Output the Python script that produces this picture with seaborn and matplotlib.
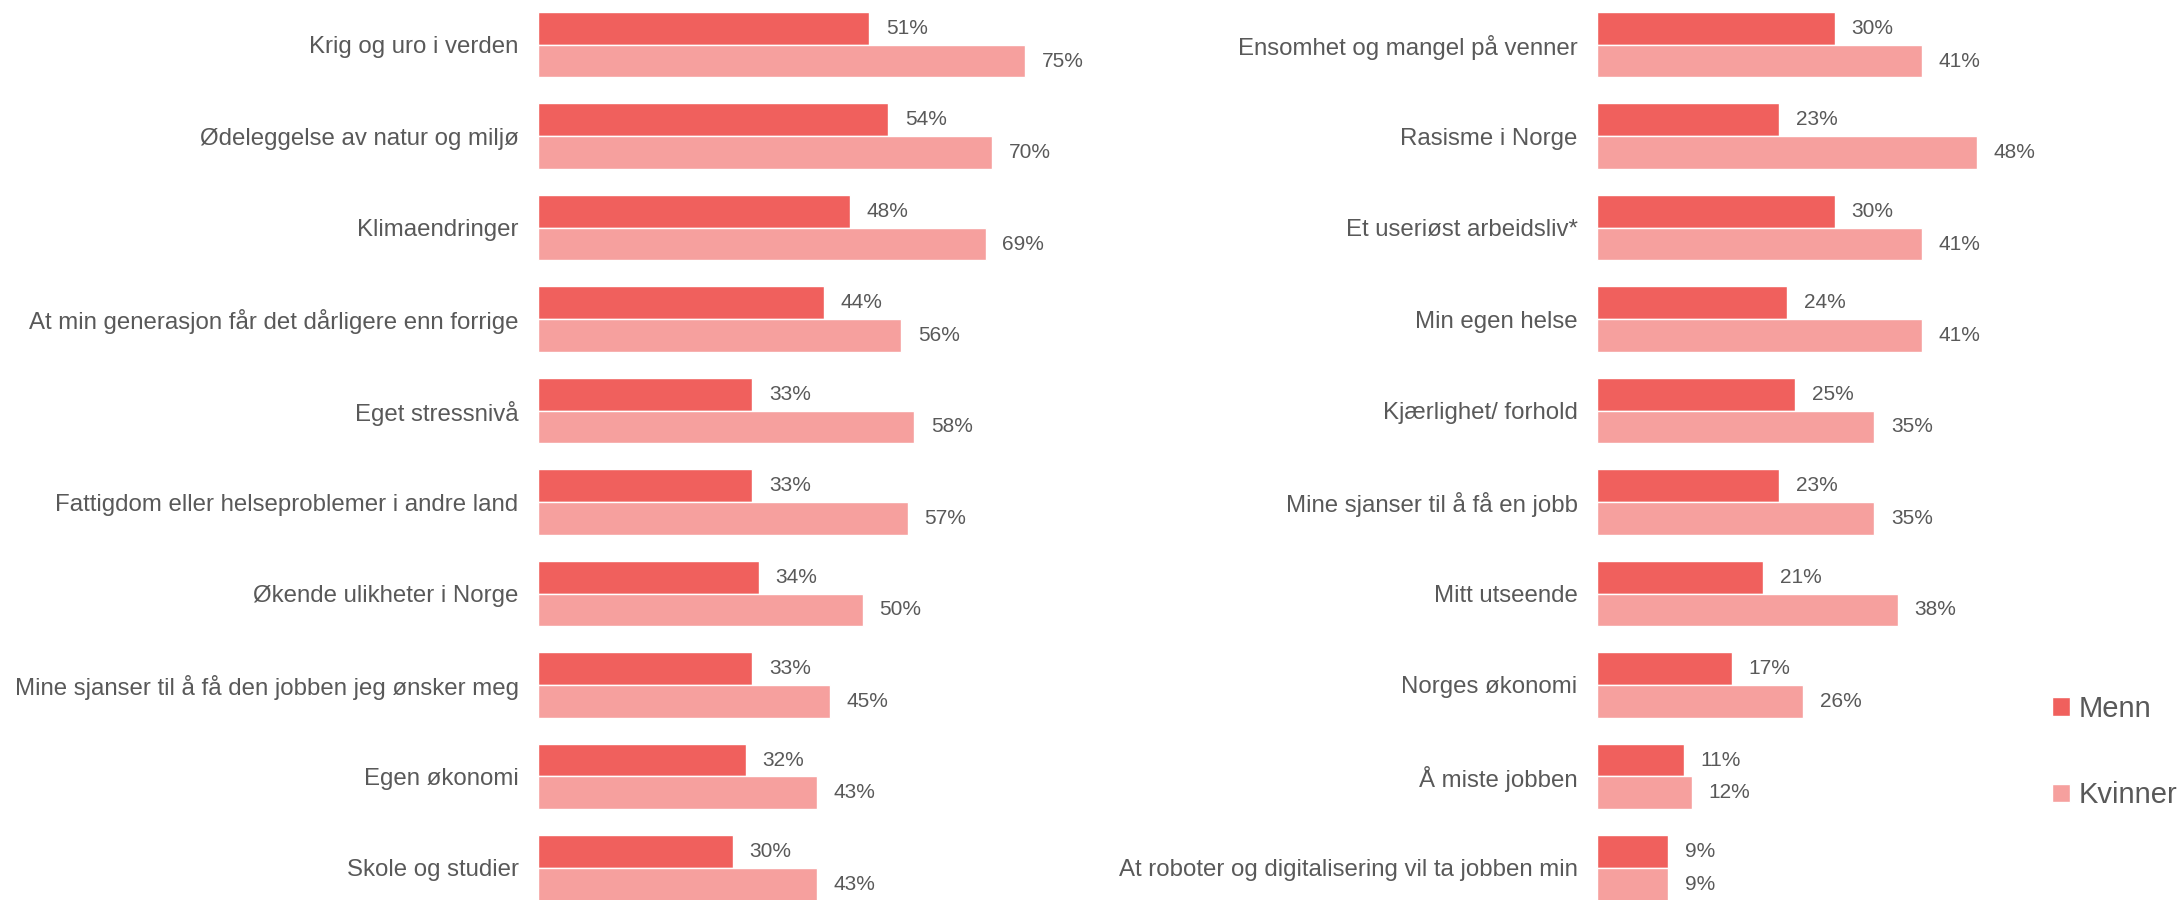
import numpy as np
import pandas as pd
import matplotlib
matplotlib.use('Agg')
import matplotlib.pyplot as plt
import seaborn as sb
from matplotlib.patches import Patch

sb.set_style('white')
plt.rcParams['font.family'] = ['Liberation Sans', 'DejaVu Sans']

left_cats = ['Krig og uro i verden', 'Ødeleggelse av natur og miljø', 'Klimaendringer',
             'At min generasjon får det dårligere enn forrige', 'Eget stressnivå',
             'Fattigdom eller helseproblemer i andre land', 'Økende ulikheter i Norge',
             'Mine sjanser til å få den jobben jeg ønsker meg', 'Egen økonomi', 'Skole og studier']
left_menn = [51, 54, 48, 44, 33, 33, 34, 33, 32, 30]
left_kvinner = [75, 70, 69, 56, 58, 57, 50, 45, 43, 43]

right_cats = ['Ensomhet og mangel på venner', 'Rasisme i Norge', 'Et useriøst arbeidsliv*',
              'Min egen helse', 'Kjærlighet/ forhold', 'Mine sjanser til å få en jobb',
              'Mitt utseende', 'Norges økonomi', 'Å miste jobben',
              'At roboter og digitalisering vil ta jobben min']
right_menn = [30, 23, 30, 24, 25, 23, 21, 17, 11, 9]
right_kvinner = [41, 48, 41, 41, 35, 35, 38, 26, 12, 9]

groups = ['Menn', 'Kvinner']
colors = {'Menn': '#F0605D', 'Kvinner': '#F6A09E'}
text_col = '#595959'


def long_df(cats, menn, kvinner):
    return pd.DataFrame({
        'kategori': cats * 2,
        'kjonn': ['Menn'] * len(cats) + ['Kvinner'] * len(cats),
        'andel': menn + kvinner,
    })


fig = plt.figure(figsize=(21.8, 9), dpi=100)
# axes placed so that 1 % point matches the reference widths
ax1 = fig.add_axes([538 / 2180, 0, 80 * 6.49 / 2180, 1])
ax2 = fig.add_axes([1597 / 2180, 0, 50 * 7.92 / 2180, 1])

for ax, cats, menn, kvinner, xmax in [(ax1, left_cats, left_menn, left_kvinner, 80),
                                      (ax2, right_cats, right_menn, right_kvinner, 50)]:
    df = long_df(cats, menn, kvinner)
    sb.barplot(data=df, y='kategori', x='andel', hue='kjonn', hue_order=groups,
               palette=colors, order=cats, orient='h', width=0.72, gap=0,
               saturation=1, ax=ax, legend=False)
    for cont in ax.containers:
        ax.bar_label(cont, fmt='%d%%', padding=12, fontsize=15, color=text_col)
    ax.set_xlim(0, xmax)
    ax.set_ylim(9.35, -0.487)
    ax.set_xlabel('')
    ax.set_ylabel('')
    ax.set_xticks([])
    ax.tick_params(axis='y', length=0, pad=14, labelsize=17.3, labelcolor=text_col)
    sb.despine(ax=ax, left=True, bottom=True)

handles = [Patch(facecolor=colors[g], label=g) for g in groups]
fig.legend(handles=handles, loc='center left', bbox_to_anchor=(2052 / 2180, 1 - 752 / 900),
           frameon=False, fontsize=21, labelcolor=text_col, handlelength=0.6,
           handleheight=0.6, handletextpad=0.3, labelspacing=2.0, borderpad=0,
           borderaxespad=0)

fig.savefig('out.png', dpi=100, facecolor='white')
